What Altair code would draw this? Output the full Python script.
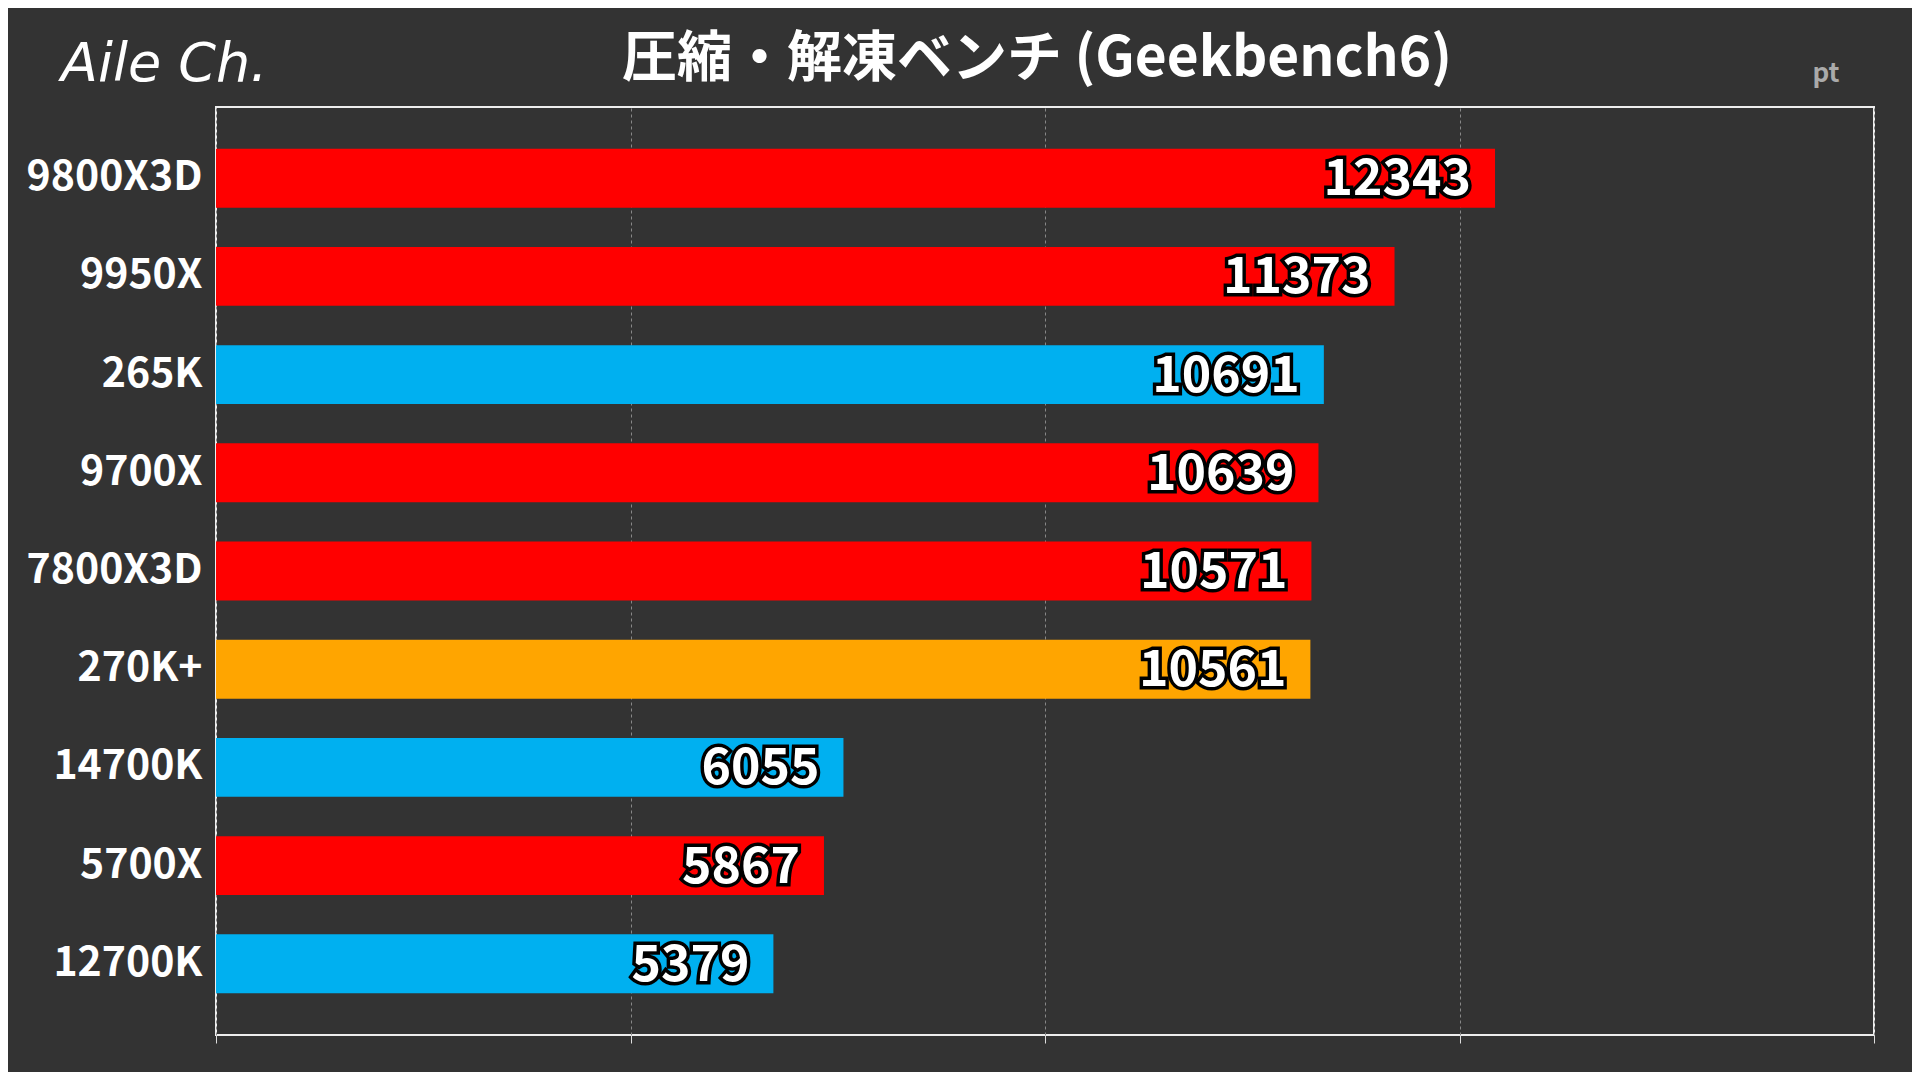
import altair as alt
import pandas as pd

cpus = ["9800X3D","9950X","265K","9700X","7800X3D","270K+","14700K","5700X","12700K"]
scores = [12343,11373,10691,10639,10571,10561,6055,5867,5379]
colors = ["#FF0000","#FF0000","#00B0F0","#FF0000","#FF0000","#FFA500","#00B0F0","#FF0000","#00B0F0"]

df = pd.DataFrame({"cpu": cpus, "score": scores, "color": colors})
FONT = "Noto Sans CJK JP"

x = alt.X("score:Q", scale=alt.Scale(domain=[0,16000], nice=False),
          axis=alt.Axis(values=[0,4000,8000,12000,16000], labels=False, title=None,
                        grid=True, gridColor="#888888", gridDash=[3,3], gridWidth=1,
                        tickColor="#dddddd", tickSize=8, domain=False))
y = alt.Y("cpu:N", sort=cpus, scale=alt.Scale(paddingInner=0.4, paddingOuter=0.425),
          axis=alt.Axis(title=None, labelColor="white", labelFontSize=41,
                        labelFont=FONT, labelFontWeight="bold",
                        labelPadding=14, ticks=False, domain=False))

bars = alt.Chart(df).mark_bar().encode(x=x, y=y, color=alt.Color("color:N", scale=None))
base_t = dict(align="right", baseline="middle", dx=-24, dy=2, fontSize=50, fontWeight="bold",
              font=FONT)
lab_s = alt.Chart(df).mark_text(**base_t, stroke="black", strokeWidth=7, fill="black").encode(
    x="score:Q", y=alt.Y("cpu:N", sort=cpus), text="score:Q")
lab_f = alt.Chart(df).mark_text(**base_t, fill="white").encode(
    x="score:Q", y=alt.Y("cpu:N", sort=cpus), text="score:Q")

title = alt.Chart(pd.DataFrame({"t":["圧縮・解凍ベンチ (Geekbench6)"]})).mark_text(
    fontSize=55, fontWeight="bold", color="white", font=FONT, align="center", baseline="middle"
).encode(text="t:N", x=alt.value(821), y=alt.value(-48))
logo = alt.Chart(pd.DataFrame({"t":["Aile Ch."]})).mark_text(
    fontSize=54, color="white", font="DejaVu Sans", fontStyle="italic", fontWeight=300, align="left"
).encode(text="t:N", x=alt.value(-155), y=alt.value(-42))
pt = alt.Chart(pd.DataFrame({"t":["pt"]})).mark_text(
    fontSize=26, fontWeight="bold", color="#aaaaaa", align="center", font=FONT
).encode(text="t:N", x=alt.value(1610), y=alt.value(-33))

chart = alt.layer(bars, lab_s, lab_f, title, logo, pt).properties(
    width=1658, height=928, background="#333333",
    padding={"left":208,"top":99,"right":38,"bottom":37},
    autosize="none"
).configure_view(stroke="#eeeeee", strokeWidth=2)

chart.save("out.html", embed_options={"renderer": "svg", "actions": False})
